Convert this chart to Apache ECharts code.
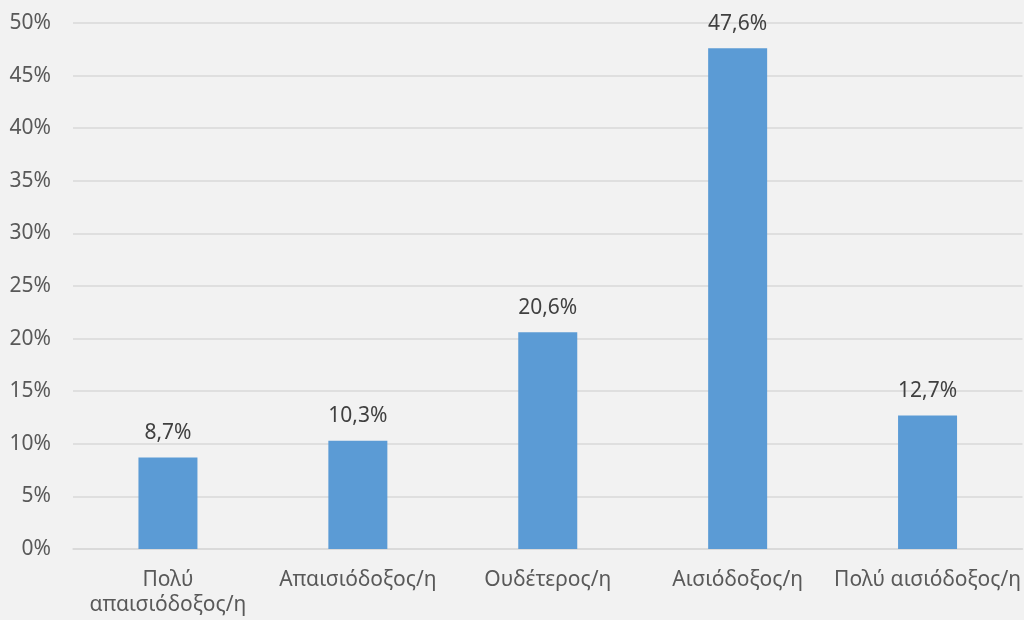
<!DOCTYPE html>
<html>
<head>
<meta charset="utf-8">
<script src="https://cdn.jsdelivr.net/npm/echarts@6/dist/echarts.min.js"></script>
<style>
html,body{margin:0;padding:0;background:#f2f2f2;}
#main{width:1024px;height:620px;}
</style>
</head>
<body>
<div id="main"></div>
<script>
const categories = ["Πολύ\nαπαισιόδοξος/η", "Απαισιόδοξος/η", "Ουδέτερος/η", "Αισιόδοξος/η", "Πολύ αισιόδοξος/η"];
const values = [8.7, 10.3, 20.6, 47.6, 12.7];
const yTicks = [0, 5, 10, 15, 20, 25, 30, 35, 40, 45, 50];

const chart = echarts.init(document.getElementById('main'));
const font = "'Noto Sans', 'Open Sans', sans-serif";
chart.setOption({
  backgroundColor: '#f2f2f2',
  animation: false,
  grid: { left: 73, right: 1, top: 23, bottom: 71, containLabel: false },
  xAxis: {
    type: 'category',
    data: categories,
    axisLine: { show: true, lineStyle: { color: '#d9d9d9', width: 1.5 } },
    axisTick: { show: false },
    axisLabel: { color: '#595959', fontSize: 21, fontFamily: font, margin: 19, lineHeight: 25, interval: 0 }
  },
  yAxis: {
    type: 'value',
    min: yTicks[0],
    max: yTicks[yTicks.length - 1],
    interval: 5,
    axisLine: { show: false },
    axisTick: { show: false },
    splitLine: { lineStyle: { color: '#d9d9d9', width: 1.5 } },
    axisLabel: { color: '#595959', fontSize: 21, fontFamily: font, margin: 22, formatter: v => v + '%' }
  },
  series: [{
    type: 'bar',
    data: values,
    barWidth: 59,
    itemStyle: { color: '#5b9bd5' },
    label: {
      show: true,
      position: 'top',
      distance: 14,
      color: '#404040',
      fontSize: 21,
      fontFamily: font,
      formatter: p => String(p.value).replace('.', ',') + '%'
    }
  }]
});
</script>
</body>
</html>
